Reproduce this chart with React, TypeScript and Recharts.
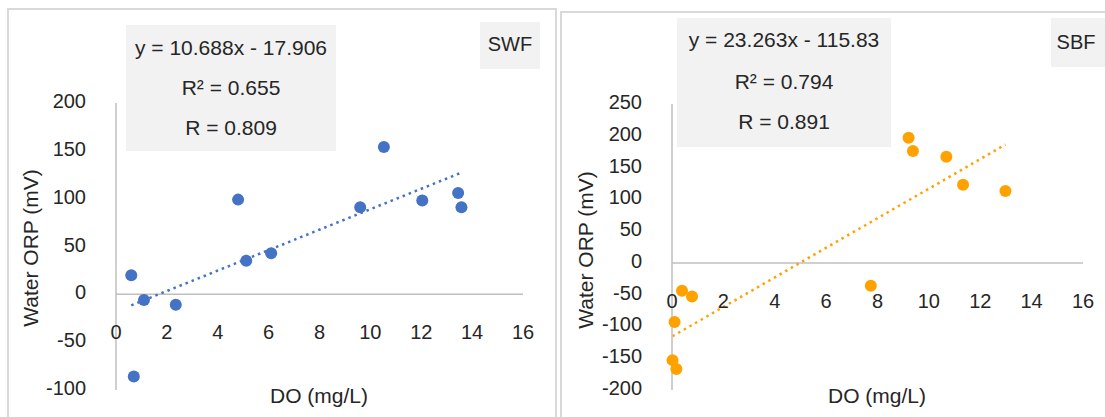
import React from 'react'
import { ScatterChart, Scatter, XAxis, YAxis, ReferenceLine } from 'recharts'

const doTicks = [0, 2, 4, 6, 8, 10, 12, 14, 16]
const swfOrpTicks = [-100, -50, 0, 50, 100, 150, 200]
const sbfOrpTicks = [-200, -150, -100, -50, 0, 50, 100, 150, 200, 250]

// SWF samples
const swfDO = [0.6, 1.1, 2.35, 0.7, 4.8, 5.12, 6.1, 9.6, 10.53, 12.04, 13.45, 13.58]
const swfORP = [20, -6, -11, -86, 99, 35, 43, 91, 154, 98, 106, 91]

// SBF samples
const sbfDO = [9.21, 9.38, 10.68, 11.33, 12.98, 7.74, 0.39, 0.78, 0.1, 0.02, 0.17]
const sbfORP = [197, 176, 167, 123, 113, -36, -44, -53, -93, -153, -167]

const swfSlope = 10.688
const swfIntercept = -17.906
const sbfSlope = 23.263
const sbfIntercept = -115.83

const GRAY = '#bfbfbf'
const TEXT = '#262626'
const FONT = '"Liberation Sans", Arial, sans-serif'
const H = 417
const X_AXIS_H = 27

const toPoints = (xs: number[], ys: number[]) => xs.map((x, i) => ({ x, y: ys[i] }))

function YTick({ x, y, payload }: any) {
  return (
    <text x={x} y={y - 2} textAnchor="end" dominantBaseline="central" fontSize={20} fill={TEXT} fontFamily={FONT}>
      {payload.value}
    </text>
  )
}

type ChartProps = {
  left: number
  width: number
  margin: { top: number; right: number; bottom: number; left: number }
  xs: number[]
  ys: number[]
  color: string
  yTicks: number[]
  slope: number
  intercept: number
}

function OrpChart({ left, width, margin, xs, ys, color, yTicks, slope, intercept }: ChartProps) {
  const data = toPoints(xs, ys)
  const yMin = yTicks[0]
  const yMax = yTicks[yTicks.length - 1]
  const plotH = H - margin.top - margin.bottom - X_AXIS_H
  const zeroY = margin.top + (yMax / (yMax - yMin)) * plotH
  const x0 = Math.min(...xs)
  const x1 = Math.max(...xs)

  // Excel puts the category labels next to the zero line, not at the plot bottom
  const XTick = ({ x, payload }: any) => (
    <text x={x} y={zeroY + 38} textAnchor="middle" dominantBaseline="central" fontSize={20} fill={TEXT} fontFamily={FONT}>
      {payload.value}
    </text>
  )

  return (
    <div style={{ position: 'absolute', left, top: 0 }}>
      <ScatterChart width={width} height={H} margin={margin}>
        <XAxis
          type="number"
          dataKey="x"
          domain={[0, 16]}
          ticks={doTicks}
          interval={0}
          height={X_AXIS_H}
          axisLine={false}
          tickLine={false}
          tick={<XTick />}
        />
        <YAxis
          type="number"
          dataKey="y"
          domain={[yMin, yMax]}
          ticks={yTicks}
          interval={0}
          width={60}
          axisLine={{ stroke: GRAY, strokeWidth: 1.5 }}
          tickLine={false}
          tickSize={0}
          tickMargin={30}
          tick={<YTick />}
        />
        <ReferenceLine y={0} stroke={GRAY} strokeWidth={1.5} />
        <ReferenceLine
          segment={[
            { x: x0, y: slope * x0 + intercept },
            { x: x1, y: slope * x1 + intercept },
          ]}
          stroke={color}
          strokeWidth={2.5}
          strokeDasharray="2.5 4"
          ifOverflow="visible"
        />
        <Scatter
          data={data}
          isAnimationActive={false}
          shape={(p: any) => <circle cx={p.cx} cy={p.cy} r={6} fill={color} />}
        />
      </ScatterChart>
    </div>
  )
}

const boxText: React.CSSProperties = {
  position: 'absolute',
  whiteSpace: 'nowrap',
  color: TEXT,
}

function Label({ x, y, text, rotate, size }: { x: number; y: number; text: string; rotate?: boolean; size?: number }) {
  return (
    <div
      style={{
        ...boxText,
        left: x,
        top: y,
        fontSize: size ?? 21,
        transform: `translate(-50%, -50%)${rotate ? ' rotate(-90deg)' : ''}`,
      }}
    >
      {text}
    </div>
  )
}

function Box({ x, y, w, h }: { x: number; y: number; w: number; h: number }) {
  return <div style={{ position: 'absolute', left: x, top: y, width: w, height: h, background: '#f2f2f2' }} />
}

export default function App() {
  return (
    <div
      style={{
        position: 'absolute',
        left: 0,
        top: 0,
        width: 1105,
        height: H,
        overflow: 'hidden',
        background: '#fff',
        fontFamily: FONT,
      }}
    >
      {/* panel frames */}
      <div style={{ position: 'absolute', left: 7, top: 8, width: 546, height: 430, border: '2px solid #d9d9d9' }} />
      <div style={{ position: 'absolute', left: 560, top: 11, width: 560, height: 430, border: '2px solid #d9d9d9' }} />

      <OrpChart
        left={0}
        width={555}
        margin={{ top: 103, right: 32, bottom: 0, left: 56 }}
        xs={swfDO}
        ys={swfORP}
        color="#4472c4"
        yTicks={swfOrpTicks}
        slope={swfSlope}
        intercept={swfIntercept}
      />
      <OrpChart
        left={555}
        width={550}
        margin={{ top: 104, right: 22, bottom: 0, left: 57 }}
        xs={sbfDO}
        ys={sbfORP}
        color="#ffa200"
        yTicks={sbfOrpTicks}
        slope={sbfSlope}
        intercept={sbfIntercept}
      />

      {/* SWF annotations */}
      <Box x={126} y={25} w={210} h={126} />
      <Label x={231} y={48} text="y = 10.688x - 17.906" />
      <Label x={231} y={88} text="R² = 0.655" />
      <Label x={231} y={128} text="R = 0.809" />
      <Box x={480} y={22} w={60} h={47} />
      <Label x={510} y={44} text="SWF" size={20} />
      <Label x={31} y={248} text="Water ORP (mV)" rotate />
      <Label x={319} y={396} text="DO (mg/L)" />

      {/* SBF annotations */}
      <Box x={677} y={18} w={214} h={129} />
      <Label x={784} y={40} text="y = 23.263x - 115.83" />
      <Label x={784} y={82} text="R² = 0.794" />
      <Label x={784} y={122} text="R = 0.891" />
      <Box x={1051} y={18} w={60} h={49} />
      <Label x={1076} y={42} text="SBF" size={20} />
      <Label x={586} y={250} text="Water ORP (mV)" rotate />
      <Label x={877} y={396} text="DO (mg/L)" />
    </div>
  )
}
